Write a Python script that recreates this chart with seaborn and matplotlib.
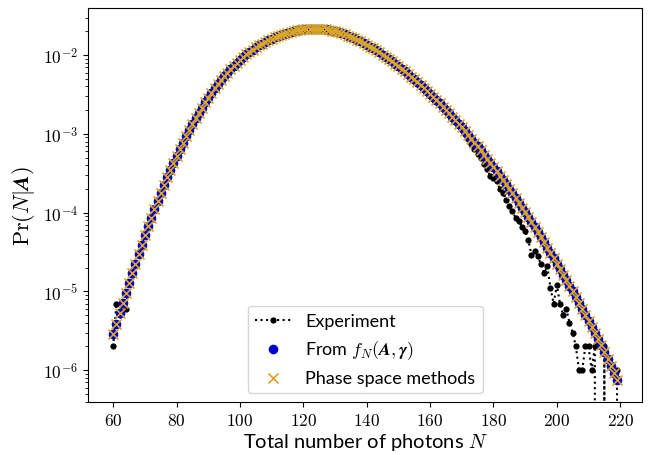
import matplotlib
matplotlib.use("Agg")
import matplotlib.pyplot as plt
from matplotlib.ticker import FuncFormatter
import numpy as np
import pandas as pd
import seaborn as sns

plt.rcParams['font.family'] = ['Lato', 'DejaVu Sans']
plt.rcParams['mathtext.fontset'] = 'cm'

# photon numbers N = 60 ... 219
photons = list(range(60, 220))

# Pr(N|A) from f_N(A, gamma) (log axis)
prob_fn = [
    2.88e-6, 3.90e-6, 5.26e-6, 7.08e-6, 9.48e-6, 1.268e-5, 1.690e-5, 2.249e-5, 2.979e-5, 3.926e-5,
    5.14e-5, 6.68e-5, 8.63e-5, 1.107e-4, 1.413e-4, 1.786e-4, 2.249e-4, 2.812e-4, 3.483e-4, 4.285e-4,
    5.248e-4, 6.397e-4, 7.745e-4, 9.31e-4, 1.114e-3, 1.327e-3, 1.570e-3, 1.845e-3, 2.158e-3, 2.506e-3,
    2.891e-3, 3.311e-3, 3.776e-3, 4.276e-3, 4.808e-3, 5.383e-3, 5.998e-3, 6.653e-3, 7.328e-3, 8.035e-3,
    8.770e-3, 9.506e-3, 1.026e-2, 1.102e-2, 1.178e-2, 1.253e-2, 1.327e-2, 1.403e-2, 1.476e-2, 1.549e-2,
    1.618e-2, 1.687e-2, 1.750e-2, 1.811e-2, 1.871e-2, 1.928e-2, 1.977e-2, 2.023e-2, 2.065e-2, 2.104e-2,
    2.133e-2, 2.153e-2, 2.168e-2, 2.173e-2, 2.168e-2, 2.158e-2, 2.141e-2, 2.116e-2, 2.084e-2, 2.046e-2,
    2.002e-2, 1.952e-2, 1.897e-2, 1.837e-2, 1.772e-2, 1.704e-2, 1.635e-2, 1.565e-2, 1.494e-2, 1.424e-2,
    1.354e-2, 1.284e-2, 1.215e-2, 1.147e-2, 1.080e-2, 1.015e-2, 9.506e-3, 8.913e-3, 8.318e-3, 7.762e-3,
    7.228e-3, 6.714e-3, 6.237e-3, 5.768e-3, 5.333e-3, 4.932e-3, 4.539e-3, 4.178e-3, 3.837e-3, 3.516e-3,
    3.221e-3, 2.938e-3, 2.679e-3, 2.443e-3, 2.218e-3, 2.014e-3, 1.824e-3, 1.648e-3, 1.489e-3, 1.340e-3,
    1.205e-3, 1.084e-3, 9.705e-4, 8.690e-4, 7.762e-4, 6.918e-4, 6.166e-4, 5.470e-4, 4.853e-4, 4.305e-4,
    3.802e-4, 3.357e-4, 2.958e-4, 2.600e-4, 2.286e-4, 2.000e-4, 1.750e-4, 1.531e-4, 1.334e-4, 1.161e-4,
    1.009e-4, 8.750e-5, 7.586e-5, 6.546e-5, 5.649e-5, 4.875e-5, 4.188e-5, 3.597e-5, 3.083e-5, 2.636e-5,
    2.254e-5, 1.919e-5, 1.633e-5, 1.390e-5, 1.178e-5, 9.977e-6, 8.433e-6, 7.112e-6, 5.998e-6, 5.035e-6,
    4.227e-6, 3.540e-6, 2.958e-6, 2.472e-6, 2.061e-6, 1.700e-6, 1.400e-6, 1.140e-6, 9.200e-7, 7.400e-7,
]

# phase space methods sit on top of the f_N points (no visible difference)
prob_phase = list(prob_fn)

# experiment, relative frequencies (zeros in the far tail)
prob_exp = [
    2.0e-6, 7.0e-6, 5.0e-6, 7.0e-6, 6.0e-6, 1.3e-5, 1.6e-5, 2.3e-5, 2.9e-5, 4.0e-5,
    5.0e-5, 6.8e-5, 8.5e-5, 1.12e-4, 1.40e-4, 1.79e-4, 2.22e-4, 2.84e-4, 3.46e-4, 4.30e-4,
    5.22e-4, 6.42e-4, 7.70e-4, 9.35e-4, 1.110e-3, 1.330e-3, 1.565e-3, 1.850e-3, 2.150e-3, 2.510e-3,
    2.885e-3, 3.315e-3, 3.770e-3, 4.280e-3, 4.800e-3, 5.390e-3, 5.990e-3, 6.660e-3, 7.320e-3, 8.040e-3,
    8.760e-3, 9.510e-3, 1.025e-2, 1.103e-2, 1.177e-2, 1.254e-2, 1.326e-2, 1.404e-2, 1.475e-2, 1.550e-2,
    1.617e-2, 1.688e-2, 1.749e-2, 1.812e-2, 1.870e-2, 1.929e-2, 1.976e-2, 2.024e-2, 2.064e-2, 2.105e-2,
    2.132e-2, 2.154e-2, 2.167e-2, 2.174e-2, 2.167e-2, 2.159e-2, 2.140e-2, 2.117e-2, 2.083e-2, 2.047e-2,
    2.001e-2, 1.953e-2, 1.896e-2, 1.838e-2, 1.771e-2, 1.705e-2, 1.634e-2, 1.566e-2, 1.493e-2, 1.425e-2,
    1.353e-2, 1.283e-2, 1.213e-2, 1.145e-2, 1.077e-2, 1.011e-2, 9.45e-3, 8.85e-3, 8.24e-3, 7.67e-3,
    7.12e-3, 6.58e-3, 6.08e-3, 5.60e-3, 5.15e-3, 4.75e-3, 4.35e-3, 3.98e-3, 3.64e-3, 3.33e-3,
    3.05e-3, 2.78e-3, 2.54e-3, 2.32e-3, 2.10e-3, 1.90e-3, 1.72e-3, 1.58e-3, 1.41e-3, 1.26e-3,
    1.12e-3, 9.9e-4, 8.5e-4, 7.5e-4, 6.5e-4, 5.5e-4, 4.9e-4, 4.2e-4, 3.6e-4, 2.9e-4,
    2.75e-4, 2.5e-4, 2.0e-4, 1.8e-4, 1.45e-4, 1.22e-4, 1.04e-4, 8.5e-5, 7.9e-5, 6.5e-5,
    5.8e-5, 4.5e-5, 2.9e-5, 3.3e-5, 2.8e-5, 2.2e-5, 1.7e-5, 2.1e-5, 1.1e-5, 7.0e-6,
    1.2e-5, 7.0e-6, 5.0e-6, 6.0e-6, 4.0e-6, 3.0e-6, 2.0e-6, 1.0e-6, 1.0e-6, 2.0e-6,
    2.0e-6, 1.0e-6, 2.0e-6, 0.0, 0.0, 2.0e-6, 0.0, 0.0, 0.0, 1.0e-6,
]

df = pd.DataFrame({'N': photons, 'exp': prob_exp, 'fn': prob_fn, 'phase': prob_phase})

fig = plt.figure(figsize=(6.52, 4.56), dpi=100)
ax = fig.add_axes([0.135, 0.116, 0.85, 0.864])

sns.lineplot(data=df, x='N', y='exp', ax=ax, color='black', linestyle=':', marker='o',
             markersize=4.5, markeredgewidth=0, lw=1.5, label='Experiment')
sns.scatterplot(data=df, x='N', y='fn', ax=ax, color='mediumblue', marker='o', s=48,
                linewidth=0, label=r'From $f_N(\boldsymbol{A},\boldsymbol{\gamma})$', zorder=3)
sns.scatterplot(data=df, x='N', y='phase', ax=ax, color='goldenrod', marker='x', s=52,
                linewidth=1.2, label='Phase space methods', zorder=4)

ax.set_yscale('log')
ax.set_ylim(3.93e-7, 3.95e-2)
ax.set_xticks([60, 80, 100, 120, 140, 160, 180, 200, 220])
ax.xaxis.set_major_formatter(FuncFormatter(lambda v, p: f'${v:g}$'))
ax.yaxis.set_major_formatter(FuncFormatter(lambda v, p: r'$10^{%d}$' % round(np.log10(v))))
ax.tick_params(labelsize=12.5)

ax.set_xlabel('Total number of photons $N$', fontsize=14.5, labelpad=2)
ax.set_ylabel(r'$\mathrm{Pr}(N|\boldsymbol{A})$', fontsize=16)

ax.legend(loc='lower center', fontsize=13)

fig.savefig('out.png', dpi=100)
